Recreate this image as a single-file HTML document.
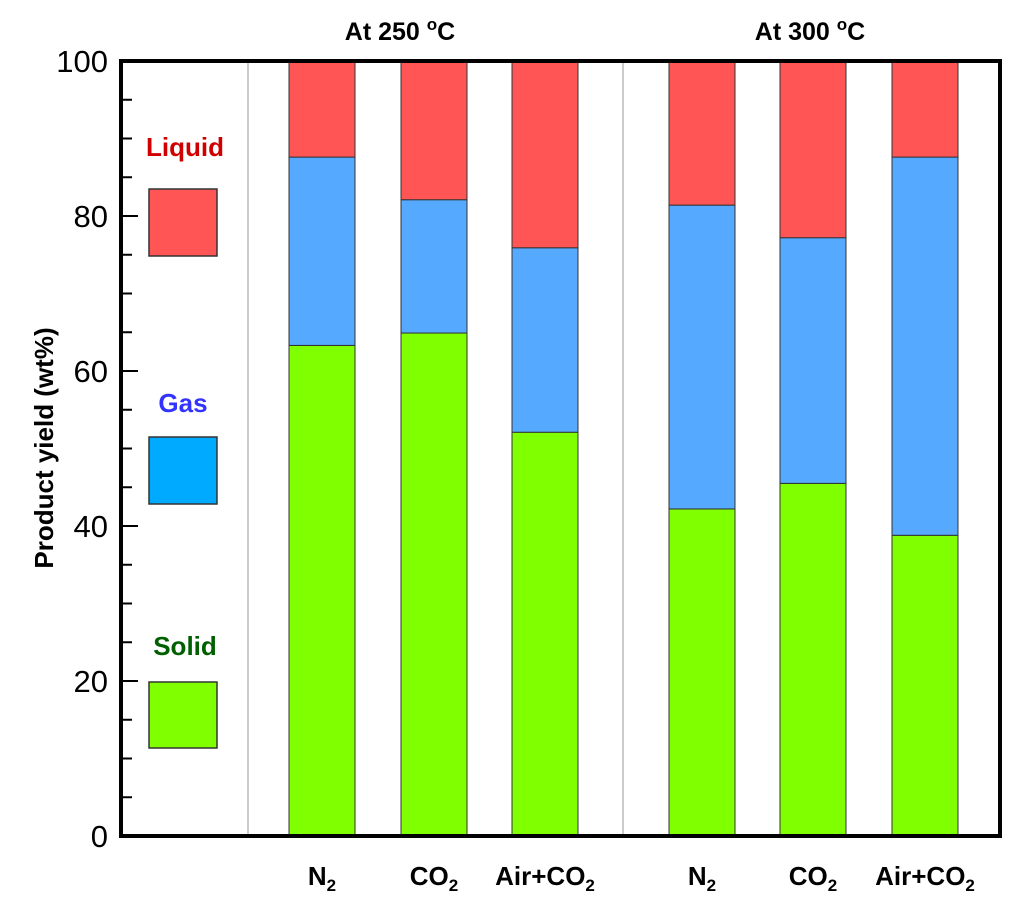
<!DOCTYPE html>
<html><head><style>
body{margin:0;background:#fff}
svg text{font-family:"Liberation Sans",Arial,sans-serif}
</style></head><body>
<svg id="chart" width="1024" height="916" viewBox="0 0 1024 916">
<g id="marks"></g>
<g id="axes"></g>
</svg>
<script>
const categories=["N2","CO2","Air+CO2","N2","CO2","Air+CO2"];
const solid=[63.3,64.9,52.1,42.2,45.5,38.8];
const gas=[24.3,17.2,23.8,39.2,31.7,48.8];
const liquid=[12.4,17.9,24.1,18.6,22.8,12.4];
const yTicks=[0,20,40,60,80,100];
const NS="http://www.w3.org/2000/svg";
const L=121,R=1000,T=61,B=836;
const barX=[289,401,512,669,780,892],barW=66;
function y(v){return B-(v/100)*(B-T);}
function mk(tag,attrs,parent){const e=document.createElementNS(NS,tag);for(const k in attrs)e.setAttribute(k,attrs[k]);parent.appendChild(e);return e;}
const marks=document.getElementById('marks'),axes=document.getElementById('axes');
[248,623].forEach((sx,i)=>{const l=mk('line',{x1:sx,x2:sx,y1:T,y2:B,stroke:'#999','stroke-width':1},marks);

});
const cols=['#7fff00','#55aaff','#ff5555'];
const names=['solid','gas','liquid'];
categories.forEach((c,i)=>{let base=0;[solid[i],gas[i],liquid[i]].forEach((v,j)=>{
const r=mk('rect',{x:barX[i],y:y(base+v),width:barW,height:y(base)-y(base+v),fill:cols[j],stroke:'#333','stroke-width':1},marks);


base+=v;});
const t=mk('text',{x:barX[i]+barW/2,y:885,'text-anchor':'middle','font-size':26,'font-weight':'bold'},axes);


const m=c.match(/^(.*?)(\d)$/);
if(m){t.textContent=m[1];const s=mk('tspan',{'font-size':17,dy:6},t);s.textContent=m[2];}else t.textContent=c;
});
for(let v=0;v<=100;v+=5){const major=v%20===0;
const tk=mk('line',{x1:L,x2:L+(major?17:11),y1:y(v),y2:y(v),stroke:'#000','stroke-width':2},axes);

}
yTicks.forEach(v=>{const t=mk('text',{x:108,y:y(v)+11,'text-anchor':'end','font-size':31},axes);t.textContent=v;

});
const frame=mk('rect',{x:L,y:T,width:R-L,height:B-T,fill:'none',stroke:'#000','stroke-width':4},axes);


</script>
<svg style="position:absolute;left:0;top:0" width="1024" height="916">
<text transform="translate(53,448) rotate(-90)" text-anchor="middle" font-size="26" font-weight="bold">Product yield (wt%)</text>
<text x="400" y="40" text-anchor="middle" font-size="25" font-weight="bold">At 250 <tspan font-size="17" dy="-10">o</tspan><tspan dy="10">C</tspan></text>
<text x="810" y="40" text-anchor="middle" font-size="25" font-weight="bold">At 300 <tspan font-size="17" dy="-10">o</tspan><tspan dy="10">C</tspan></text>
<g>
<text x="185" y="156" text-anchor="middle" font-size="26" font-weight="bold" fill="#d00000">Liquid</text>
<rect x="149" y="189" width="68" height="67" fill="#ff5555" stroke="#333" stroke-width="1.5"/>
<text x="183" y="412" text-anchor="middle" font-size="26" font-weight="bold" fill="#3333ff">Gas</text>
<rect x="149" y="437" width="68" height="67" fill="#00aaff" stroke="#333" stroke-width="1.5"/>
<text x="185" y="655" text-anchor="middle" font-size="26" font-weight="bold" fill="#006000">Solid</text>
<rect x="149" y="682" width="68" height="66" fill="#7fff00" stroke="#333" stroke-width="1.5"/>
</g>
</svg>
</body></html>
